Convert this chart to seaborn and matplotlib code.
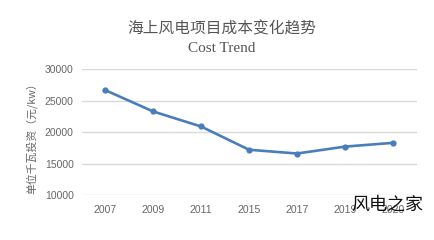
import matplotlib
matplotlib.use("Agg")
import matplotlib.pyplot as plt
import seaborn as sns
import pandas as pd

years = ["2007", "2009", "2011", "2015", "2017", "2019", "2020"]
cost = [26700, 23300, 20900, 17200, 16600, 17700, 18300]
y_ticks = [10000, 15000, 20000, 25000, 30000]

sns.set_theme(style="white")
plt.rcParams['font.family'] = ['Noto Sans CJK SC', 'DejaVu Sans']

df = pd.DataFrame({"year": years, "cost": cost})

fig = plt.figure(figsize=(4.34, 2.4), dpi=100)
ax = fig.add_axes([82/434, 1-195/240, (417-82)/434, (195-69.3)/240])

sns.lineplot(data=df, x="year", y="cost", ax=ax, color="#4a7ebb", linewidth=1.9,
             marker="o", markersize=4.5, markeredgewidth=0, sort=False)

ax.set_xlim(-0.48, 6.5)
ax.set_ylim(10000, 30000)
ax.set_yticks(y_ticks)
ax.grid(axis="y", color="#d9d9d9", linewidth=1.0)
ax.set_axisbelow(True)
for s in ax.spines.values():
    s.set_visible(False)
ax.tick_params(axis="both", length=0, colors="#666666", labelsize=7.5)
ax.tick_params(axis="x", pad=7)
ax.tick_params(axis="y", pad=6)
for lbl in ax.get_xticklabels() + ax.get_yticklabels():
    lbl.set_family(["Liberation Sans", "DejaVu Sans"])
ax.set_xlabel("")
ax.set_ylabel("单位千瓦投资（元/kw）", color="#666666", fontsize=7.8,
              family=["Noto Sans CJK SC", "DejaVu Sans"])
ax.yaxis.set_label_coords(-0.133, 0.47)

fig.text(222/434, 1-28.5/240, "海上风电项目成本变化趋势", ha="center", va="center",
         fontsize=11.3, color="#555555", family=["Noto Sans CJK SC", "DejaVu Sans"])
fig.text(222/434, 1-48.5/240, "Cost Trend", ha="center", va="center",
         fontsize=11, color="#555555", family=["Liberation Serif", "DejaVu Serif"])
fig.text(387/434, 1-205/240, "风电之家", ha="center", va="center",
         fontsize=13, color="#111111", family=["Noto Sans CJK SC", "DejaVu Sans"], zorder=10)

fig.savefig("out.png", dpi=100)
